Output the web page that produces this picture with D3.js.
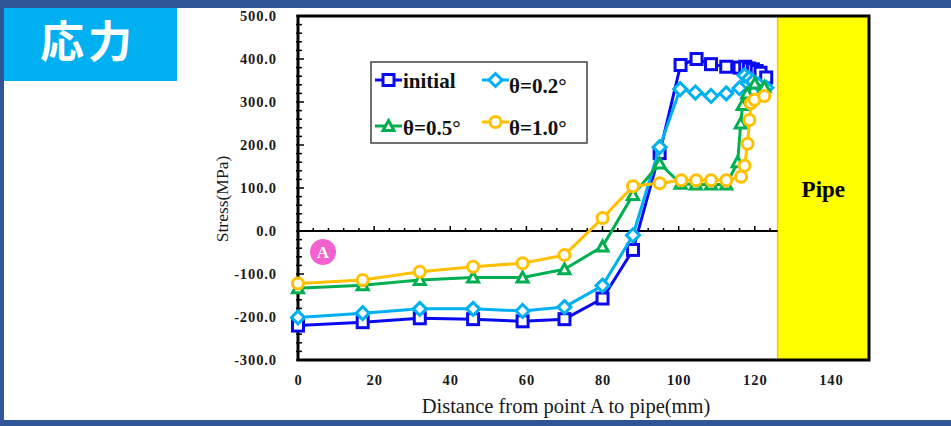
<!DOCTYPE html>
<html>
<head>
<meta charset="utf-8">
<script src="https://cdn.jsdelivr.net/npm/d3@7"></script>
<style>
  html, body { margin: 0; padding: 0; background: #fff; }
  svg { display: block; }
</style>
</head>
<body>
<svg id="chart" width="951" height="426"></svg>
<script>
// values (distance in mm, stress in MPa)
const initial_x = [0, 17, 32, 46, 59, 70, 80, 88, 95, 100.5, 104.7, 108.5, 112.5, 116, 117.5, 118.5, 119.5, 120.5, 121.5, 123];
const initial_y = [-220, -212, -203, -205, -210, -205, -157, -44, 181, 386, 400, 388, 382, 380, 382, 378, 376, 372, 368, 357];

const theta02_x = [0, 17, 32, 46, 59, 70, 80, 88, 95, 100.4, 104.4, 108.5, 112.5, 116, 117.3, 118.5, 119.5, 121, 123];
const theta02_y = [-201, -191, -181, -181, -186, -177, -127, -10, 195, 330, 322, 314, 320, 332, 362, 355, 348, 340, 333];

const theta05_x = [0, 17, 32, 46, 59, 70, 80, 88, 95, 100.5, 104.5, 108.5, 112.5, 115.5, 116.3, 116.8, 118, 120, 122.5];
const theta05_y = [-133, -126, -114, -108, -108, -89, -36, 84, 157, 110, 108, 108, 108, 160, 250, 293, 320, 343, 335];

const theta10_x = [0, 17, 32, 46, 59, 70, 80, 88, 95, 100.7, 104.6, 108.5, 112.5, 116.4, 117.3, 118.1, 118.6, 119, 119.9, 122.5];
const theta10_y = [-122, -114, -95, -83, -75, -56, 30, 104, 111, 118, 118, 118, 118, 126, 152, 203, 258, 297, 305, 314];

const series_names = ["initial", "θ=0.2°", "θ=0.5°", "θ=1.0°"];
const x_ticks = [0, 20, 40, 60, 80, 100, 120, 140];
const y_ticks = [-300, -200, -100, 0, 100, 200, 300, 400, 500];
const pipe_start = 126;

const colors = ["#0a0af0", "#00b0f0", "#00b050", "#ffc000"];
const shapes = ["square", "diamond", "triangle", "circle"];

const svg = d3.select("#chart");
const serif = "'Liberation Serif', 'Times New Roman', serif";

const x = d3.scaleLinear().domain([0, 150]).range([298, 869]);
const y = d3.scaleLinear().domain([-300, 500]).range([360, 16]);

// page frame
const frame_blue = "#2f5597";
svg.append("rect").attr("x", 0).attr("y", 0).attr("width", 951).attr("height", 8).attr("fill", frame_blue);
svg.append("rect").attr("x", 0).attr("y", 0).attr("width", 4).attr("height", 426).attr("fill", frame_blue);
svg.append("rect").attr("x", 0).attr("y", 420).attr("width", 951).attr("height", 6).attr("fill", frame_blue);

// title box
svg.append("rect").attr("x", 4).attr("y", 8).attr("width", 173).attr("height", 73).attr("fill", "#00b0f0");
svg.append("text")
  .attr("x", 88).attr("y", 58)
  .attr("text-anchor", "middle")
  .attr("fill", "#fff")
  .attr("font-family", "'Noto Sans CJK JP', 'Noto Sans CJK SC', sans-serif")
  .attr("font-weight", 700)
  .attr("font-size", 44)
  .attr("letter-spacing", 4)
  .text("応力");

// pipe
svg.append("rect")
  .attr("x", x(pipe_start)).attr("y", y(500))
  .attr("width", x(150) - x(pipe_start)).attr("height", y(-300) - y(500))
  .attr("fill", "#ffff00").attr("stroke", "#ffc000").attr("stroke-width", 1.5);
svg.append("text")
  .attr("x", (x(pipe_start) + x(150)) / 2).attr("y", 197)
  .attr("text-anchor", "middle")
  .attr("font-family", serif).attr("font-weight", "bold").attr("font-size", 23)
  .text("Pipe");

// zero line with small ticks
svg.append("line")
  .attr("x1", x(0)).attr("x2", x(pipe_start))
  .attr("y1", y(0)).attr("y2", y(0))
  .attr("stroke", "#000").attr("stroke-width", 2);
const zero_ticks = d3.range(0, pipe_start, 4);
svg.append("g").selectAll("line").data(zero_ticks).join("line")
  .attr("x1", (d) => x(d)).attr("x2", (d) => x(d))
  .attr("y1", y(0)).attr("y2", (d) => y(0) - (d % 20 === 0 ? 5 : 3))
  .attr("stroke", "#000").attr("stroke-width", 1.5);

// left axis minor/major ticks inside
const y_minor = d3.range(-300, 501, 20);
svg.append("g").selectAll("line").data(y_minor).join("line")
  .attr("x1", x(0) - 2).attr("x2", (d) => x(0) + (d % 100 === 0 ? 6 : 4))
  .attr("y1", (d) => y(d)).attr("y2", (d) => y(d))
  .attr("stroke", "#000").attr("stroke-width", 1.5);

// plot border
svg.append("rect")
  .attr("x", x(0)).attr("y", y(500))
  .attr("width", x(150) - x(0)).attr("height", y(-300) - y(500))
  .attr("fill", "none").attr("stroke", "#000").attr("stroke-width", 3);

// tick labels
const y_axis = svg.append("g")
  .attr("transform", `translate(${x(0) - 18},0)`)
  .call(d3.axisLeft(y).tickValues(y_ticks).tickSize(0).tickFormat((d) => d.toFixed(1)));
y_axis.select(".domain").remove();
y_axis.selectAll("text")
  .attr("font-family", serif).attr("font-weight", "bold").attr("font-size", 14.5)
  .attr("letter-spacing", 0.9).attr("fill", "#1a1a1a");

const x_axis = svg.append("g")
  .attr("transform", `translate(0,${y(-300) + 12})`)
  .call(d3.axisBottom(x).tickValues(x_ticks).tickSize(0).tickFormat((d) => d));
x_axis.select(".domain").remove();
x_axis.selectAll("text")
  .attr("font-family", serif).attr("font-weight", "bold").attr("font-size", 14.5)
  .attr("letter-spacing", 0.9).attr("fill", "#1a1a1a");

// axis titles
svg.append("text")
  .attr("transform", "translate(228,199) rotate(-90)")
  .attr("text-anchor", "middle")
  .attr("font-family", serif).attr("font-size", 17.5).attr("fill", "#1a1a1a")
  .text("Stress(MPa)");
svg.append("text")
  .attr("x", 566).attr("y", 413)
  .attr("text-anchor", "middle")
  .attr("font-family", serif).attr("font-size", 20.5).attr("fill", "#1a1a1a")
  .text("Distance from point A to pipe(mm)");

// point A marker
svg.append("circle").attr("cx", 323).attr("cy", 252).attr("r", 13).attr("fill", "#f462cf");
svg.append("text")
  .attr("x", 323).attr("y", 258)
  .attr("text-anchor", "middle")
  .attr("font-family", serif).attr("font-weight", "bold").attr("font-size", 17)
  .attr("fill", "#fff")
  .text("A");

// markers
function draw_marker(g, shape, color, cx, cy) {
  if (shape === "square") {
    g.append("rect").attr("x", cx - 5.5).attr("y", cy - 5.5).attr("width", 11).attr("height", 11)
      .attr("fill", "#fff").attr("stroke", color).attr("stroke-width", 3);
  } else if (shape === "diamond") {
    g.append("path")
      .attr("d", `M${cx},${cy - 6.5}L${cx + 6.5},${cy}L${cx},${cy + 6.5}L${cx - 6.5},${cy}Z`)
      .attr("fill", "#fff").attr("stroke", color).attr("stroke-width", 3);
  } else if (shape === "triangle") {
    g.append("path")
      .attr("d", `M${cx},${cy - 5.5}L${cx + 5.5},${cy + 4.5}L${cx - 5.5},${cy + 4.5}Z`)
      .attr("fill", "#fff").attr("stroke", color).attr("stroke-width", 3).attr("stroke-linejoin", "miter");
  } else {
    g.append("circle").attr("cx", cx).attr("cy", cy).attr("r", 5.5)
      .attr("fill", "#fff").attr("stroke", color).attr("stroke-width", 3);
  }
}

const series = [
  [initial_x, initial_y],
  [theta02_x, theta02_y],
  [theta05_x, theta05_y],
  [theta10_x, theta10_y],
].map((s, i) => ({
  name: series_names[i],
  color: colors[i],
  shape: shapes[i],
  points: s[0].map((d, j) => ({ x: d, y: s[1][j] })),
}));

const line = d3.line().x((d) => x(d.x)).y((d) => y(d.y));

series.forEach((s) => {
  const g = svg.append("g");
  g.append("path")
    .datum(s.points)
    .attr("d", line)
    .attr("fill", "none")
    .attr("stroke", s.color)
    .attr("stroke-width", 3)
    .attr("stroke-linejoin", "round");
  s.points.forEach((p) => draw_marker(g, s.shape, s.color, x(p.x), y(p.y)));
});

// legend
const legend = svg.append("g");
legend.append("rect")
  .attr("x", 371).attr("y", 62).attr("width", 216).attr("height", 81)
  .attr("fill", "#fff").attr("stroke", "#404040").attr("stroke-width", 1.5);
const legend_pos = [
  { lx: 375, ly: 80, tx: 403, ty: 88 },
  { lx: 482, ly: 80, tx: 509, ty: 93 },
  { lx: 375, ly: 126, tx: 403, ty: 135 },
  { lx: 482, ly: 122, tx: 509, ty: 135 },
];
series.forEach((s, i) => {
  const p = legend_pos[i];
  legend.append("line")
    .attr("x1", p.lx).attr("x2", p.lx + 27)
    .attr("y1", p.ly).attr("y2", p.ly)
    .attr("stroke", s.color).attr("stroke-width", 3);
  draw_marker(legend, s.shape, s.color, p.lx + 13.5, p.ly);
  legend.append("text")
    .attr("x", p.tx).attr("y", p.ty)
    .attr("font-family", serif).attr("font-weight", "bold").attr("font-size", 21)
    .attr("fill", "#111")
    .text(s.name);
});
</script>
</body>
</html>
